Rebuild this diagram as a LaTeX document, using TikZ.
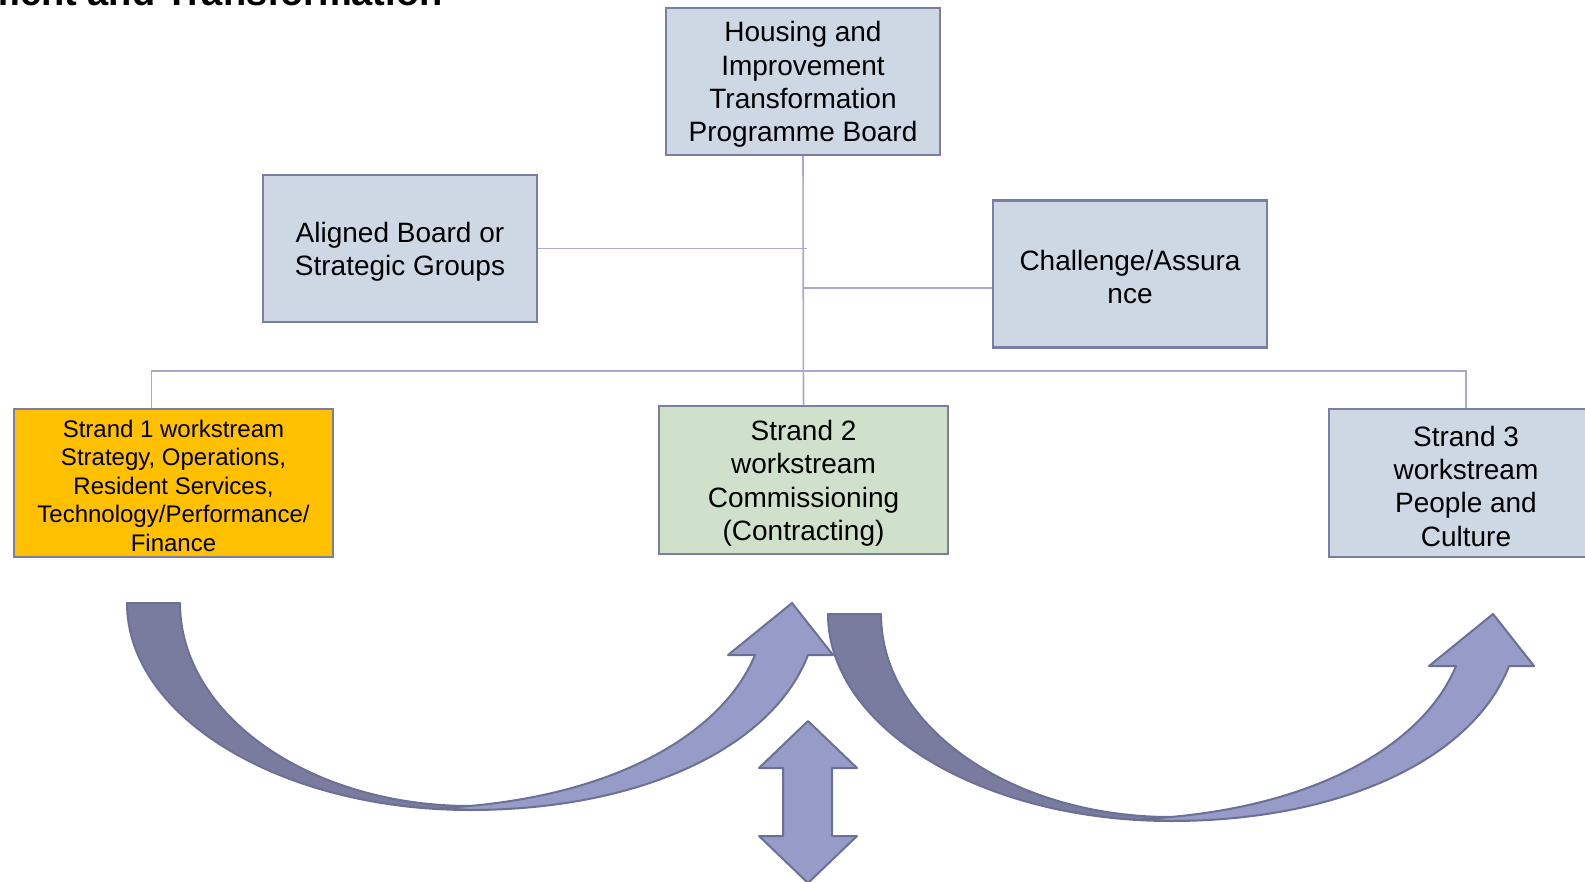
\documentclass[tikz,border=0pt]{standalone}
\usepackage{fontspec}
\setmainfont{Liberation Sans}

\definecolor{boxblue}{HTML}{CDD8E4}
\definecolor{boxgreen}{HTML}{D0E1CB}
\definecolor{boxamber}{HTML}{FFC000}
\definecolor{boxedge}{HTML}{7A7EA2}
\definecolor{linkline}{HTML}{A7A9D3}
\definecolor{arrowdark}{HTML}{797C9F}
\definecolor{arrowlight}{HTML}{969CC7}
\definecolor{arrowedge}{HTML}{6C7095}

% a little extra room above the first line of a box
\newcommand{\headroom}{\rule{0pt}{0.95em}}

% one curved arrow: dark back band, then light front band with head
\newcommand{\turnarrow}{%
	\filldraw [darkband] (127,603) -- (180,603) .. controls (180,715) and (310,806) .. (470,806) -- (470,810) .. controls (281,810) and (127,717) .. (127,603) -- cycle;
	\filldraw [lightband] (440,808) .. controls (610,800) and (722,735) .. (755,655) -- (728,655) -- (792,603) -- (833,655) -- (808,655) .. controls (772,748) and (640,810) .. (470,810) -- cycle;
}

\begin{document}
\begin{tikzpicture}[x=0.5pt, y=-0.5pt]
	\tikzstyle{every node}+=[inner sep=0pt]
	\tikzstyle{unit}=[draw=boxedge, line width=1.2pt, fill=boxblue, align=center, minimum width=137pt, minimum height=73.5pt, font=\fontsize{14}{16.7}\selectfont]
	\tikzstyle{link}=[draw=linkline, line width=0.8pt]
	\tikzstyle{darkband}=[fill=arrowdark, draw=arrowedge, line width=1pt, line join=round]
	\tikzstyle{lightband}=[fill=arrowlight, draw=arrowedge, line width=1pt, line join=round]
	\useasboundingbox (0,0) rectangle (1585,882);
	\node [anchor=base east, font=\bfseries\fontsize{19}{22}\selectfont] (title) at (443,5.5) {Improvement and Transformation};
	\node [unit] (board) at (803,81.5) {\headroom Housing and\\Improvement\\Transformation\\Programme Board};
	\node [unit] (aligned) at (400,248.5) {\headroom Aligned Board or\\Strategic Groups};
	\node [unit] (challenge) at (1130,274) {\headroom Challenge/Assura\\nce};
	\node [unit, fill=boxamber, minimum width=159.5pt, minimum height=74pt, font=\fontsize{12}{14.3}\selectfont] (strand1) at (173.5,483) {\headroom Strand 1 workstream\\Strategy, Operations,\\Resident Services,\\Technology/Performance/\\Finance};
	\node [unit, fill=boxgreen, minimum width=144.5pt, minimum height=74pt] (strand2) at (803.5,480) {\headroom Strand 2\\workstream\\Commissioning\\(Contracting)};
	\node [unit, minimum height=74pt] (strand3) at (1466,483) {\headroom Strand 3\\workstream\\People and\\Culture};
	\coordinate (bus) at (803,371);
	\coordinate (chlink) at ([yshift=-7pt]challenge.west);
	\draw [link] (board.south) -- (strand2.north);
	\draw [link] (aligned.east) -- ([xshift=2pt]aligned.east -| board.south);
	\draw [link] (chlink) -- (chlink -| board.south);
	\draw [link] ([xshift=-11pt]strand1.north) |- (bus) -| (strand3.north);
	\turnarrow
	\begin{scope}[shift={(701,11)}]
		\turnarrow
	\end{scope}
	\filldraw [lightband] (808,721) -- (857,768) -- (832,768) -- (832,836) -- (857,836) -- (808,883) -- (759,836) -- (783,836) -- (783,768) -- (759,768) -- cycle;
\end{tikzpicture}
\end{document}
